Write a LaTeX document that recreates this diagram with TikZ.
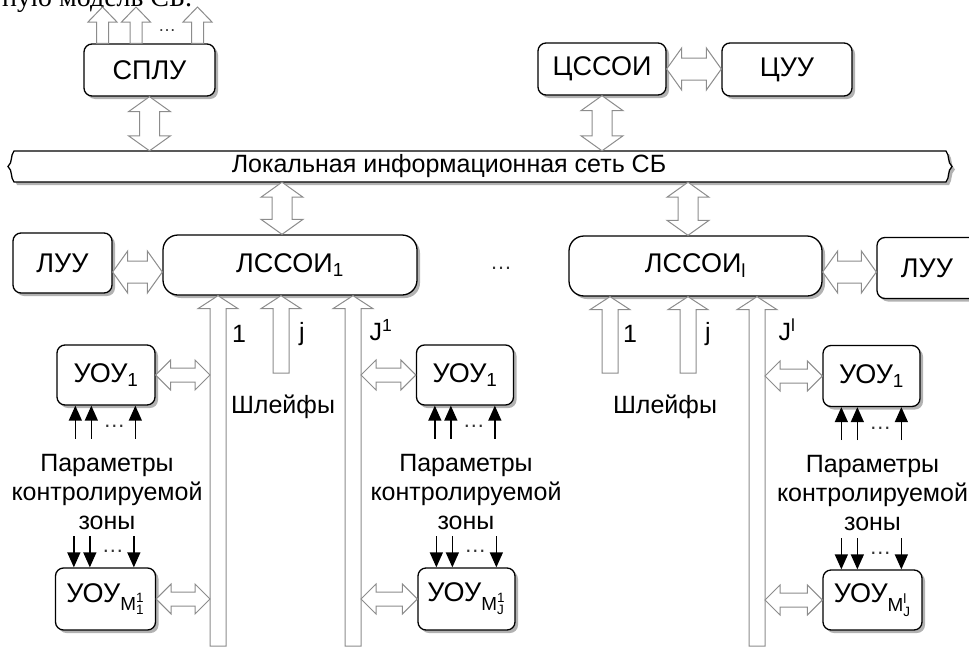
\documentclass[tikz,border=0pt]{standalone}
\usepackage{fontspec}
\usepackage{amsmath}
\setmainfont{Liberation Sans}
\newfontfamily\cutserif{Liberation Serif}
\usetikzlibrary{calc,shadows,arrows.meta}

\tikzset{
  box/.style={draw=black, line width=1.3pt, rounded corners=8pt, fill=white, inner sep=0pt,
    font=\fontsize{27}{32}\selectfont,
    drop shadow={shadow xshift=3pt,shadow yshift=-3pt,fill=black,opacity=0.3}},
  bigbox/.style={box, rounded corners=15pt},
  hollow/.style={draw=black!45, line width=1pt, fill=white, line join=miter},
  lbl/.style={font=\fontsize{25}{29}\selectfont, inner sep=0pt},
  param/.style={font=\fontsize{25}{29}\selectfont, align=center, inner sep=0pt},
  sig/.style={line width=1.4pt, -{Triangle[length=15pt,width=13pt]}},
  dotsl/.style={font=\fontsize{22}{26}\selectfont, text=black!80, inner sep=0pt},
}

% vertical double arrow: #1 top point, #2 bottom point, #3 head half width, #4 shaft half width, #5 head length
\newcommand\dblV[5]{\draw[hollow] let \p1=(#1), \p2=(#2) in
  (\x1,\y1) -- (\x1+#3pt,\y1-#5pt) -- (\x1+#4pt,\y1-#5pt) -- (\x1+#4pt,\y2+#5pt) -- (\x1+#3pt,\y2+#5pt)
  -- (\x1,\y2) -- (\x1-#3pt,\y2+#5pt) -- (\x1-#4pt,\y2+#5pt) -- (\x1-#4pt,\y1-#5pt) -- (\x1-#3pt,\y1-#5pt) -- cycle;}
% horizontal double arrow: #1 left point, #2 right point
\newcommand\dblH[5]{\draw[hollow] let \p1=(#1), \p2=(#2) in
  (\x1,\y1) -- (\x1+#5pt,\y1+#3pt) -- (\x1+#5pt,\y1+#4pt) -- (\x2-#5pt,\y1+#4pt) -- (\x2-#5pt,\y1+#3pt)
  -- (\x2,\y1) -- (\x2-#5pt,\y1-#3pt) -- (\x2-#5pt,\y1-#4pt) -- (\x1+#5pt,\y1-#4pt) -- (\x1+#5pt,\y1-#3pt) -- cycle;}
% single up arrow: #1 tail (bottom), #2 tip (top)
\newcommand\upA[5]{\draw[hollow] let \p1=(#1), \p2=(#2) in
  (\x2,\y2) -- (\x2+#3pt,\y2-#5pt) -- (\x2+#4pt,\y2-#5pt) -- (\x2+#4pt,\y1) -- (\x2-#4pt,\y1)
  -- (\x2-#4pt,\y2-#5pt) -- (\x2-#3pt,\y2-#5pt) -- cycle;}

\begin{document}
\begin{tikzpicture}[x=1pt,y=-1pt]
\useasboundingbox (0,0) rectangle (969,648);
\clip (0,0) rectangle (969,648);

% cut-off line of text at the top
\node[anchor=base west, inner sep=0pt, font=\cutserif\fontsize{28}{30}\selectfont] (cut) at (2,6) {ную модель СБ.};

% ---------- top level ----------
\coordinate (o1) at (102.5,7);
\coordinate (o2) at (136,7);
\coordinate (o3) at (197.5,7);
\node[box, minimum width=131pt, minimum height=52pt] (splu) at (149.5,70) {СПЛУ};
\upA{splu.north -| o1}{o1}{14.5}{6}{15}
\upA{splu.north -| o2}{o2}{14.5}{6}{15}
\upA{splu.north -| o3}{o3}{14.5}{6}{15}
\node[dotsl, font=\fontsize{18}{20}\selectfont] (tdots) at (167,31) {…};

\node[box, minimum width=128pt, minimum height=52pt] (cssoi) at (602,69) {ЦССОИ};
\node[box, minimum width=130pt, minimum height=53pt] (cuu) at (787,69.5) {ЦУУ};
\dblH{cssoi.east}{cuu.west}{21}{11}{15}

% ---------- bus ----------
\node[minimum width=938pt, minimum height=31pt, inner sep=0pt] (bus) at (480,166.5) {};
\fill[black!30, xshift=3pt, yshift=-3pt]
  (14,151) -- (946,151) .. controls (950,156) and (947,162) .. (952,166.5)
  .. controls (947,171) and (950,177) .. (946,182) -- (14,182)
  .. controls (10,177) and (13,171) .. (8,166.5) .. controls (13,162) and (10,156) .. (14,151) -- cycle;
\draw[line width=1.3pt, fill=white]
  (14,151) -- (946,151) .. controls (950,156) and (947,162) .. (952,166.5)
  .. controls (947,171) and (950,177) .. (946,182) -- (14,182)
  .. controls (10,177) and (13,171) .. (8,166.5) .. controls (13,162) and (10,156) .. (14,151) -- cycle;
\node[lbl] (bustext) at (449,166) {Локальная информационная сеть СБ};

\dblV{splu.south}{splu.south |- bus.north}{21}{10}{15}
\dblV{cssoi.south}{cssoi.south |- bus.north}{21}{10}{15}

% ---------- local stations ----------
\node[box, minimum width=99pt, minimum height=60pt] (luuL) at (62.5,263) {ЛУУ};
\node[bigbox, minimum width=254pt, minimum height=60pt] (L1) at (290,265) {ЛССОИ$_{\text{1}}$};
\node[bigbox, minimum width=253pt, minimum height=60pt] (Ll) at (695.5,266) {ЛССОИ$_{\text{l}}$};
\node[box, minimum width=100pt, minimum height=61pt] (luuR) at (927,268) {ЛУУ};
\node[dotsl] (mdots) at (501,268) {…};

\coordinate (x1) at (282,0);
\coordinate (xl) at (688,0);
\dblV{bus.south -| x1}{L1.north -| x1}{21}{10}{15}
\dblV{bus.south -| xl}{Ll.north -| xl}{21}{10}{15}

\coordinate (yL) at (0,272);
\dblH{luuL.east |- yL}{L1.west |- yL}{21}{11}{15}
\dblH{Ll.east |- yL}{luuR.west |- yL}{21}{11}{15}

% ---------- loops into local stations ----------
\coordinate (t1) at (218,646);
\coordinate (tj) at (281,373);
\coordinate (tJ) at (353,646);
\coordinate (r1) at (610,373);
\coordinate (rj) at (688,373);
\coordinate (rJ) at (757,646);
\upA{t1}{t1 |- L1.south}{20}{8}{13}
\upA{tj}{tj |- L1.south}{20}{8}{13}
\upA{tJ}{tJ |- L1.south}{20}{8}{13}
\upA{r1}{r1 |- Ll.south}{20}{8}{13}
\upA{rj}{rj |- Ll.south}{20}{8}{13}
\upA{rJ}{rJ |- Ll.south}{20}{8}{13}

\node[lbl] (n1) at (239,334) {1};
\node[lbl] (nj) at (302,334) {j};
\node[lbl] (nJ) at (381,330) {J$^{\text{1}}$};
\node[lbl] (m1) at (630,334) {1};
\node[lbl] (mj) at (708,334) {j};
\node[lbl] (mJ) at (787,330) {J$^{\text{l}}$};
\node[lbl] (shl1) at (283,407) {Шлейфы};
\node[lbl] (shl2) at (665,407) {Шлейфы};

% ---------- object devices ----------
\node[box, minimum width=98pt, minimum height=60pt] (a1) at (106,375) {УОУ$_{\text{1}}$};
\node[box, minimum width=100pt, minimum height=62pt] (aM) at (105.5,599) {УОУ$_{\text{М}^{\text{1}}_{\text{1}}}$};
\node[box, minimum width=97pt, minimum height=60pt] (b1) at (465,375) {УОУ$_{\text{1}}$};
\node[box, minimum width=97pt, minimum height=62pt] (bM) at (466.5,599) {УОУ$_{\text{М}^{\text{1}}_{\text{J}}}$};
\node[box, minimum width=97pt, minimum height=61pt] (c1) at (871.5,376) {УОУ$_{\text{1}}$};
\node[box, minimum width=99pt, minimum height=60pt] (cM) at (872.5,600) {УОУ$_{\text{М}^{\text{l}}_{\text{J}}}$};

\dblH{a1.east}{$(a1.east -| t1)+(-8,0)$}{15}{7}{15}
\dblH{aM.east}{$(aM.east -| t1)+(-8,0)$}{15}{7}{15}
\dblH{$(b1.west -| tJ)+(8,0)$}{b1.west}{15}{7}{15}
\dblH{$(bM.west -| tJ)+(8,0)$}{bM.west}{15}{7}{15}
\dblH{$(c1.west -| rJ)+(8,0)$}{c1.west}{15}{7}{15}
\dblH{$(cM.west -| rJ)+(8,0)$}{cM.west}{15}{7}{15}

% parameters of the controlled zone
\foreach \u/\m in {a1/aM, b1/bM, c1/cM}{
  \node[param] (p\u) at ($(\u.south)+(1,86)$) {Параметры\\контролируемой\\зоны};
  \foreach \dx in {19,35,79}{
    \draw[sig] ($(\u.south west)+(\dx,33)$) -- ($(\u.south west)+(\dx,0)$);
    \draw[sig] ($(\m.north west)+(\dx,-31)$) -- ($(\m.north west)+(\dx,0)$);
  }
  \node[dotsl] (du\u) at ($(\u.south west)+(58,21)$) {…};
  \node[dotsl] (dd\u) at ($(\m.north west)+(58,-16)$) {…};
}
\end{tikzpicture}
\end{document}
